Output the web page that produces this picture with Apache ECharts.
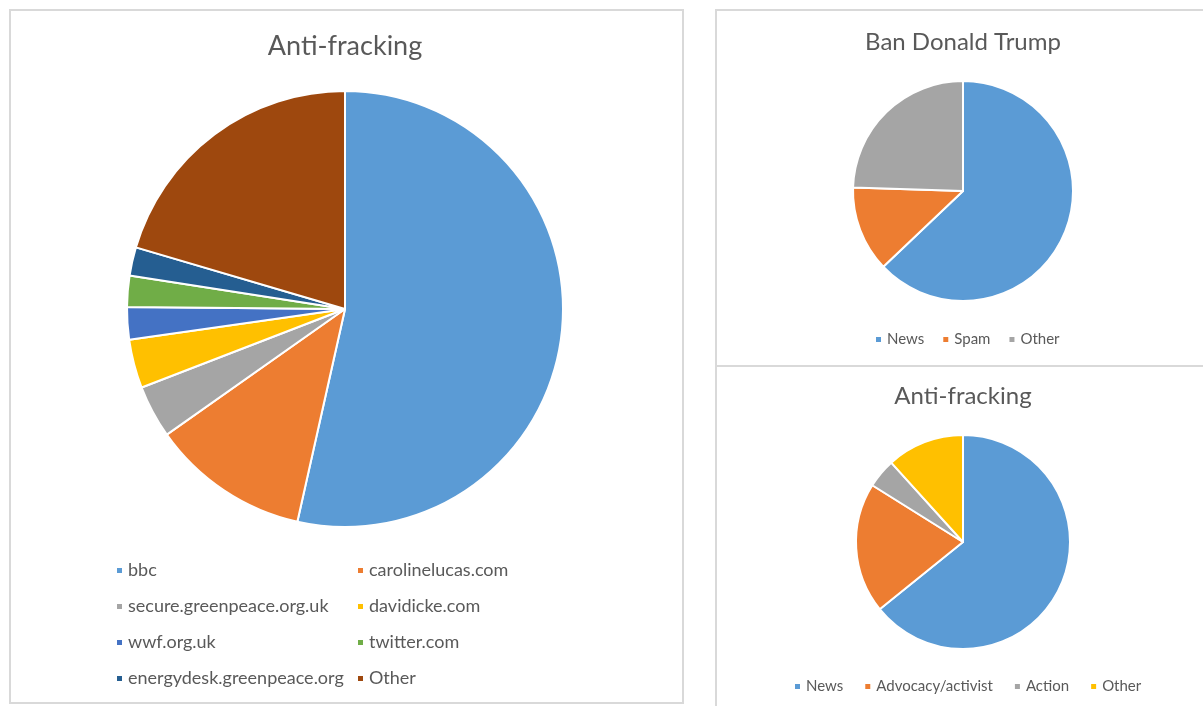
<!DOCTYPE html>
<html>
<head>
<meta charset="utf-8">
<script src="https://cdn.jsdelivr.net/npm/echarts@6/dist/echarts.min.js"></script>
<style>
html,body{margin:0;padding:0;background:#fff;}
#c{width:1203px;height:706px;}
</style>
</head>
<body>
<div id="c"></div>
<script>
// ---- data ----
const leftTitle = 'Anti-fracking';
const leftNames = ['bbc','carolinelucas.com','secure.greenpeace.org.uk','davidicke.com','wwf.org.uk','twitter.com','energydesk.greenpeace.org','Other'];
const leftValues = [53.4, 11.7, 3.9, 3.6, 2.4, 2.3, 2.1, 20.4];

const trumpTitle = 'Ban Donald Trump';
const trumpNames = ['News','Spam','Other'];
const trumpValues = [62.9, 12.6, 24.5];

const fracTitle = 'Anti-fracking';
const fracNames = ['News','Advocacy/activist','Action','Other'];
const fracValues = [64.2, 19.7, 4.4, 11.7];

// ---- styles ----
const palette = ['#5B9BD5','#ED7D31','#A5A5A5','#FFC000','#4472C4','#70AD47','#255E91','#9E480E'];
const FONT = 'Lato, "Open Sans", sans-serif';
const TXT = '#595959';
const BORDER = '#D9D9D9';

function pieData(names, values){
  return names.map((n,i)=>({name:n, value:values[i], itemStyle:{color:palette[i]}}));
}
function legendItems(names, subset){
  return subset.map(n=>({name:n, itemStyle:{color:palette[names.indexOf(n)]}}));
}

const chart = echarts.init(document.getElementById('c'), null, {renderer:'canvas'});
const pieBase = {
  type:'pie', startAngle:90, clockwise:true, label:{show:false}, labelLine:{show:false},
  itemStyle:{borderColor:'#fff', borderWidth:2}, emphasis:{disabled:true}, silent:true
};
const leftLegendText = {fontFamily:FONT, fontSize:18, color:TXT, lineHeight:22};
const rightLegendText = {fontFamily:FONT, fontSize:15, color:TXT};
const legendBase = {icon:'rect', itemWidth:7, itemHeight:7, selectedMode:false};

chart.setOption({
  animation:false,
  backgroundColor:'#fff',
  graphic:[
    {type:'rect', shape:{x:10,y:10,width:673,height:693}, style:{fill:'none', stroke:BORDER, lineWidth:2}},
    {type:'rect', shape:{x:716,y:10,width:500,height:356}, style:{fill:'none', stroke:BORDER, lineWidth:2}},
    {type:'rect', shape:{x:716,y:366,width:500,height:360}, style:{fill:'none', stroke:BORDER, lineWidth:2}},
    {type:'text', x:345, y:46, style:{text:leftTitle, fill:TXT, font:'27px '+FONT, textAlign:'center', textVerticalAlign:'middle'}},
    {type:'text', x:963, y:42, style:{text:trumpTitle, fill:TXT, font:'24px '+FONT, textAlign:'center', textVerticalAlign:'middle'}},
    {type:'text', x:963, y:396, style:{text:fracTitle, fill:TXT, font:'24px '+FONT, textAlign:'center', textVerticalAlign:'middle'}}
  ],
  legend:[
    Object.assign({}, legendBase, {orient:'vertical', left:110, top:554.5, itemGap:14, textStyle:leftLegendText,
      data:legendItems(leftNames, ['bbc','secure.greenpeace.org.uk','wwf.org.uk','energydesk.greenpeace.org'])}),
    Object.assign({}, legendBase, {orient:'vertical', left:351, top:554.5, itemGap:14, textStyle:leftLegendText,
      data:legendItems(leftNames, ['carolinelucas.com','davidicke.com','twitter.com','Other'])}),
    Object.assign({}, legendBase, {orient:'horizontal', left:869, top:327, itemGap:17, textStyle:rightLegendText,
      data:legendItems(trumpNames, trumpNames)}),
    Object.assign({}, legendBase, {orient:'horizontal', left:788, top:674, itemGap:20, textStyle:rightLegendText,
      data:legendItems(fracNames, fracNames)})
  ],
  series:[
    Object.assign({}, pieBase, {center:[345,309], radius:218, data:pieData(leftNames,leftValues)}),
    Object.assign({}, pieBase, {center:[963,191], radius:110, data:pieData(trumpNames,trumpValues)}),
    Object.assign({}, pieBase, {center:[963,542], radius:107, data:pieData(fracNames,fracValues)})
  ]
});
</script>
</body>
</html>
